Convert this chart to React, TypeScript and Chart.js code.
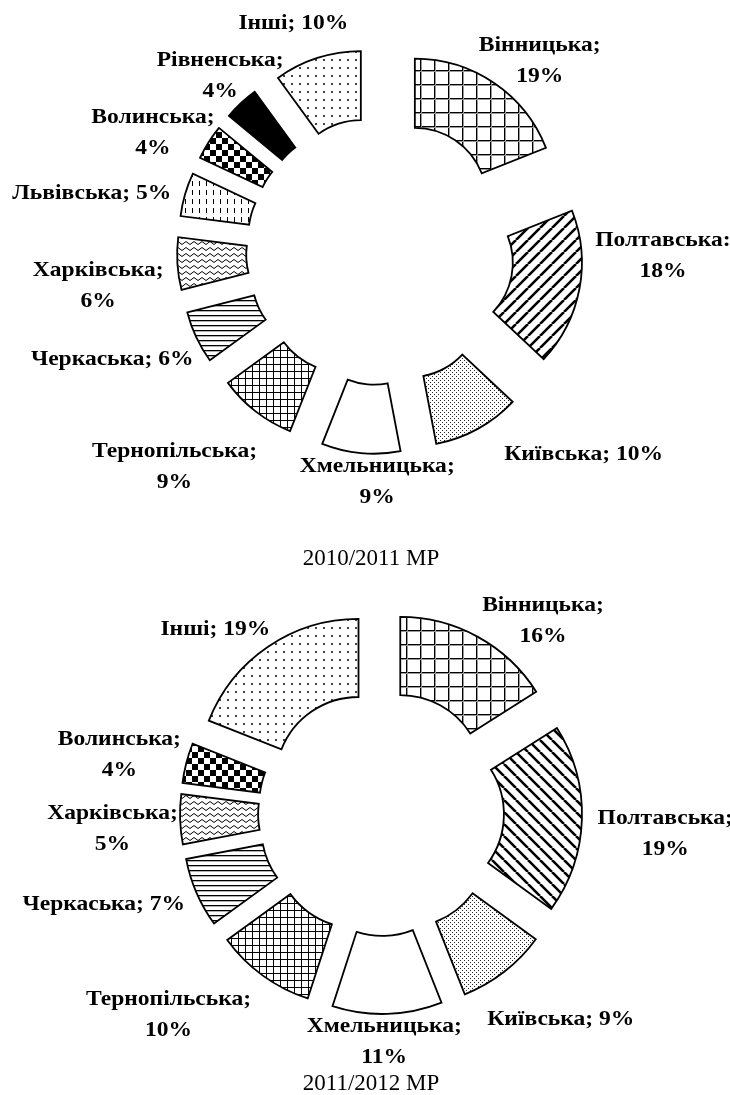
import React, { useEffect, useRef } from 'react';
import { Chart, ArcElement, DoughnutController } from 'chart.js';

Chart.register(ArcElement, DoughnutController);

// ---------- data ----------
const REGIONS_2010 = ['Вінницька', 'Полтавська', 'Київська', 'Хмельницька', 'Тернопільська', 'Черкаська', 'Харківська', 'Львівська', 'Волинська', 'Рівненська', 'Інші'];
const SHARES_2010 = [19, 18, 10, 9, 9, 6, 6, 5, 4, 4, 10];
const SEPARATORS_2010 = [';', ':', ';', ';', ';', ';', ';', ';', ';', ';', ';'];
const TWO_LINE_2010 = [true, true, false, true, true, false, true, false, true, true, false];
const PATTERNS_2010 = ['grid', 'diagUp', 'fineDots', 'none', 'smallGrid', 'hlines', 'wave', 'vdash', 'checker', 'solid', 'sparseDots'];
// label placement: angular shift (deg) from slice mid-angle, distance (px) from chart centre
const LABEL_SHIFT_2010 = [5.9, -9.8, -16.2, -4.7, 5.8, 3.1, -3.5, -4.8, -4.9, 0.8, -2.8];
const LABEL_DIST_2010 = [248, 283, 288, 231, 298, 289, 284, 294, 256, 237, 244];

const REGIONS_2011 = ['Вінницька', 'Полтавська', 'Київська', 'Хмельницька', 'Тернопільська', 'Черкаська', 'Харківська', 'Волинська', 'Інші'];
const SHARES_2011 = [16, 19, 9, 11, 10, 7, 5, 4, 19];
const SEPARATORS_2011 = [';', ';', ';', ';', ';', ';', ';', ';', ';'];
const TWO_LINE_2011 = [true, true, false, true, true, false, true, true, false];
const PATTERNS_2011 = ['grid', 'diagDown', 'fineDots', 'none', 'smallGrid', 'hlines', 'wave', 'checker', 'sparseDots'];
const LABEL_SHIFT_2011 = [11.4, 2.4, -3.2, 1, 10.5, 5.1, -1.6, -1.9, -7.9];
const LABEL_DIST_2011 = [251, 285, 274, 229, 293, 292, 269, 268, 247];

const CAPTION_2010 = '2010/2011 МР';
const CAPTION_2011 = '2011/2012 МР';

// ---------- helpers ----------
function buildLines(names: string[], shares: number[], seps: string[], twoLine: boolean[]): string[][] {
  return names.map((n, i) => (twoLine[i] ? [n + seps[i], shares[i] + '%'] : [n + seps[i] + ' ' + shares[i] + '%']));
}

function makePattern(kind: string): CanvasPattern | string {
  if (kind === 'none') return '#ffffff';
  if (kind === 'solid') return '#000000';
  const c = document.createElement('canvas');
  let w = 8;
  let h = 8;
  if (kind === 'grid') { w = 14; h = 14; }
  if (kind === 'diagUp' || kind === 'diagDown') { w = 12; h = 12; }
  if (kind === 'fineDots') { w = 4; h = 4; }
  if (kind === 'smallGrid') { w = 7; h = 7; }
  if (kind === 'hlines') { w = 4; h = 5; }
  if (kind === 'wave') { w = 8; h = 6; }
  if (kind === 'vdash') { w = 7; h = 9; }
  if (kind === 'checker') { w = 12; h = 12; }
  if (kind === 'sparseDots') { w = 8; h = 8; }
  c.width = w;
  c.height = h;
  const g = c.getContext('2d')!;
  g.fillStyle = '#ffffff';
  g.fillRect(0, 0, w, h);
  g.fillStyle = '#000000';
  g.strokeStyle = '#000000';
  switch (kind) {
    case 'grid':
      g.fillRect(0, 0, w, 1);
      g.fillRect(0, 0, 1, h);
      g.fillStyle = '#9a9a9a';
      g.fillRect(0, 1, w, 1);
      g.fillRect(1, 0, 1, h);
      break;
    case 'diagUp':
    case 'diagDown':
      g.lineWidth = 2.6;
      g.beginPath();
      for (const k of [-w, 0, w]) {
        if (kind === 'diagUp') { g.moveTo(k, h); g.lineTo(k + w, 0); }
        else { g.moveTo(k, 0); g.lineTo(k + w, h); }
      }
      g.stroke();
      break;
    case 'fineDots':
      g.fillStyle = '#222';
      g.fillRect(0, 0, 1, 1);
      g.fillRect(2, 2, 1, 1);
      break;
    case 'smallGrid':
      g.fillRect(0, 0, w, 1);
      g.fillRect(0, 0, 1, h);
      break;
    case 'hlines':
      g.fillRect(0, 0, w, 1);
      g.fillStyle = '#b0b0b0';
      g.fillRect(0, 1, w, 1);
      break;
    case 'wave':
      g.lineWidth = 1;
      g.beginPath();
      g.moveTo(0, 3);
      g.quadraticCurveTo(2, 0, 4, 3);
      g.quadraticCurveTo(6, 6, 8, 3);
      g.stroke();
      break;
    case 'vdash':
      g.fillRect(3, 1, 1, 5);
      break;
    case 'checker':
      g.fillRect(0, 0, 6, 6);
      g.fillRect(6, 6, 6, 6);
      break;
    case 'sparseDots':
      g.fillStyle = '#444';
      g.fillRect(3, 3, 2, 2);
      break;
  }
  const p = g.createPattern(c, 'repeat');
  return p || '#ffffff';
}

const LABEL_FONT_SIZE = 22;
const LABEL_FONT = `bold ${LABEL_FONT_SIZE}px "Liberation Serif", "Times New Roman", serif`;
const LABEL_LINE_HEIGHT = 31;
const LABEL_STRETCH = 1.07;

function makeExplodePlugin(distance: number) {
  return {
    id: 'explodeSlices',
    afterDatasetUpdate(_chart: any, args: any) {
      args.meta.data.forEach((arc: any) => {
        const a = (arc.startAngle + arc.endAngle) / 2;
        arc.x += Math.cos(a) * distance;
        arc.y += Math.sin(a) * distance;
      });
    },
  };
}

function makeLabelPlugin(lines: string[][], shifts: number[], dists: number[]) {
  return {
    id: 'sliceLabels',
    afterDatasetsDraw(chart: any) {
      const ctx = chart.ctx as CanvasRenderingContext2D;
      const meta = chart.getDatasetMeta(0);
      const ca = chart.chartArea;
      const cx = (ca.left + ca.right) / 2;
      const cy = (ca.top + ca.bottom) / 2;
      ctx.save();
      ctx.font = LABEL_FONT;
      ctx.fillStyle = '#000';
      ctx.textAlign = 'center';
      ctx.textBaseline = 'middle';
      meta.data.forEach((arc: any, i: number) => {
        const a = (arc.startAngle + arc.endAngle) / 2 + (shifts[i] * Math.PI) / 180;
        const ls = lines[i];
        const bx = cx + Math.cos(a) * dists[i];
        const by = cy + Math.sin(a) * dists[i];
        ls.forEach((l, j) => {
          const y = by - ((ls.length - 1) * LABEL_LINE_HEIGHT) / 2 + j * LABEL_LINE_HEIGHT;
          ctx.save();
          ctx.translate(bx, y);
          ctx.scale(LABEL_STRETCH, 1);
          ctx.fillText(l, 0, 0);
          ctx.restore();
        });
      });
      ctx.restore();
    },
  };
}

type DonutProps = {
  values: number[];
  lines: string[][];
  patterns: string[];
  shifts: number[];
  dists: number[];
  explode: number;
  radius: number;
  cutout: string;
  padding: { left: number; right: number; top: number; bottom: number };
  top: number;
  width: number;
  height: number;
};

function Donut(props: DonutProps) {
  const ref = useRef<HTMLCanvasElement>(null);
  useEffect(() => {
    const canvas = ref.current!;
    const bg = props.patterns.map(makePattern);
    const chart = new Chart(canvas, {
      type: 'doughnut',
      data: {
        labels: props.lines.map((l) => l.join(' ')),
        datasets: [
          {
            data: props.values,
            backgroundColor: bg as any,
            borderColor: '#000000',
            borderWidth: 1.8,
            borderJoinStyle: 'miter',
            hoverOffset: 0,
          } as any,
        ],
      },
      options: {
        responsive: false,
        animation: false,
        events: [],
        radius: props.radius,
        cutout: props.cutout,
        rotation: 0,
        layout: { padding: props.padding },
        plugins: { legend: { display: false }, tooltip: { enabled: false } },
      } as any,
      plugins: [makeExplodePlugin(props.explode), makeLabelPlugin(props.lines, props.shifts, props.dists)],
    });
    return () => chart.destroy();
  }, []);
  return (
    <canvas
      ref={ref}
      width={props.width}
      height={props.height}
      style={{ position: 'absolute', left: 0, top: props.top, width: props.width, height: props.height }}
    />
  );
}

const captionStyle = (top: number): React.CSSProperties => ({
  position: 'absolute',
  left: 371,
  top,
  transform: 'translateX(-50%)',
  font: '23px "Liberation Serif", "Times New Roman", serif',
  lineHeight: '26px',
  whiteSpace: 'nowrap',
  color: '#000',
});

export default function App() {
  const lines2010 = buildLines(REGIONS_2010, SHARES_2010, SEPARATORS_2010, TWO_LINE_2010);
  const lines2011 = buildLines(REGIONS_2011, SHARES_2011, SEPARATORS_2011, TWO_LINE_2011);
  return (
    <div style={{ position: 'absolute', left: 0, top: 0, width: 730, height: 1095, background: '#fff', overflow: 'hidden' }}>
      <Donut
        values={SHARES_2010}
        lines={lines2010}
        patterns={PATTERNS_2010}
        shifts={LABEL_SHIFT_2010}
        dists={LABEL_DIST_2010}
        explode={62}
        radius={141}
        cutout="51%"
        padding={{ left: 30, right: 0, top: 0, bottom: 38 }}
        top={0}
        width={730}
        height={540}
      />
      <Donut
        values={SHARES_2011}
        lines={lines2011}
        patterns={PATTERNS_2011}
        shifts={LABEL_SHIFT_2011}
        dists={LABEL_DIST_2011}
        explode={40}
        radius={161}
        cutout="51.5%"
        padding={{ left: 32, right: 0, top: 0, bottom: 29 }}
        top={560}
        width={730}
        height={535}
      />
      <div style={captionStyle(545)}>{CAPTION_2010}</div>
      <div style={captionStyle(1070)}>{CAPTION_2011}</div>
    </div>
  );
}
